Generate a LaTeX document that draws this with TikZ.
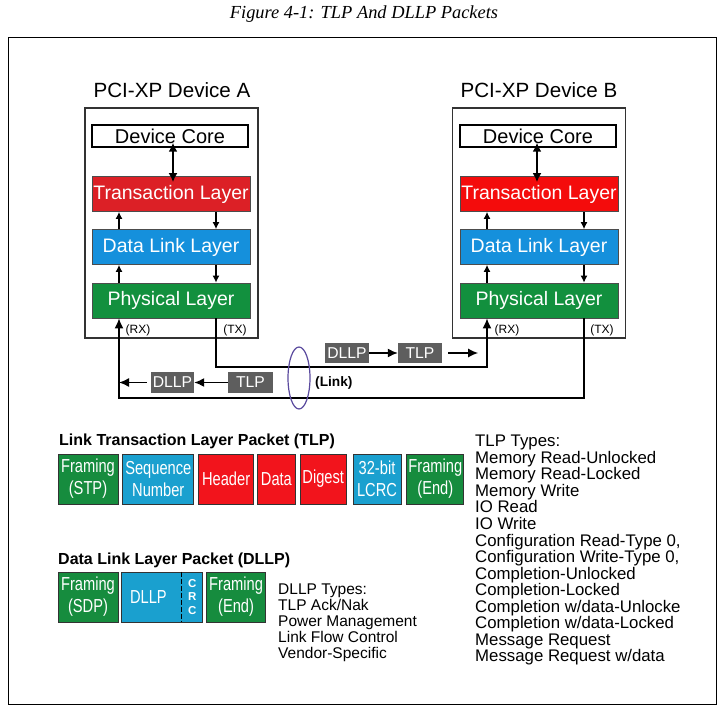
\documentclass[tikz,border=0pt]{standalone}
\usepackage{fontspec}
\setmainfont{Liberation Sans}
\newfontfamily\narrowfont[FakeStretch=0.78]{Liberation Sans}
\newfontfamily\capfont{Liberation Serif}
\usetikzlibrary{positioning,arrows.meta,shapes.geometric}
\definecolor{redA}{HTML}{DC2026}
\definecolor{redB}{HTML}{F40C0C}
\definecolor{linkblue}{HTML}{1590DC}
\definecolor{phygreen}{HTML}{12903E}
\definecolor{pktgreen}{HTML}{168C3E}
\definecolor{pktblue}{HTML}{1AA0CF}
\definecolor{pktred}{HTML}{F2141C}
\definecolor{tagdark}{HTML}{5E5E5E}
\definecolor{ringblue}{HTML}{5A4A9E}
\tikzset{devbox/.style={draw=black!80, line width=1.3pt, minimum width=173pt, minimum height=230pt},
  titletext/.style={font=\fontsize{20.6}{23}\selectfont},
  corebox/.style={draw=black, line width=1.4pt, fill=white, inner sep=0pt, minimum width=156pt, minimum height=22pt, font=\fontsize{20}{22}\selectfont},
  layerbox/.style={draw=black!70, line width=0.7pt, inner sep=0pt, minimum width=158pt, minimum height=35pt, text=white, font=\fontsize{19.5}{22}\selectfont},
  portlabel/.style={inner sep=0pt, font=\fontsize{12}{13}\selectfont},
  tagbox/.style={fill=tagdark, text=white, inner sep=0pt, minimum height=20pt, font=\fontsize{15.7}{17}\selectfont},
  ring/.style={ellipse, draw=ringblue, line width=1.2pt, minimum width=22pt, minimum height=62pt},
  fieldbox/.style={draw=black!80, line width=0.8pt, inner sep=0pt, minimum height=50pt, text=white, align=center, font=\narrowfont\fontsize{18.8}{22}\selectfont},
  pkttitle/.style={inner sep=0pt, font=\bfseries\fontsize{16}{18}\selectfont},
  listtext/.style={inner sep=0pt, align=left},
  arr/.style={-{Latex[length=10pt,width=9pt]}, line width=1.5pt},
  smallarr/.style={-{Latex[length=7pt,width=7pt]}, line width=1.3pt},
  corearr/.style={{Latex[length=9pt,width=9pt]}-{Latex[length=9pt,width=9pt]}, line width=1.9pt, shorten <=-5pt, shorten >=-6pt}}

\begin{document}
\begin{tikzpicture}[x=1pt, y=-1pt]
\useasboundingbox (0,0) rectangle (728,714);
\node[font=\capfont\itshape\fontsize{18.4}{20}\selectfont] (caption) at (364,14) {Figure 4-1: TLP And DLLP Packets};
\draw[line width=1pt] (8,38) rectangle (716,704);

% device A
\node[devbox] (devA) at (171.5,223) {};
\node[titletext] (titleA) at (172,90) {PCI-XP Device A};
\node[corebox] (coreA) at (170,136) {Device Core};
\node[layerbox, fill=redA] (tlA) at (171,194) {Transaction Layer};
\node[layerbox, fill=linkblue] (dllA) at (171,247) {Data Link Layer};
\node[layerbox, fill=phygreen] (phyA) at (171,300.5) {Physical Layer};
\node[portlabel] (rxlA) at (138,330) {(RX)};
\node[portlabel] (txlA) at (235,330) {(TX)};

% device B
\node[devbox] (devB) at (539,223) {};
\node[titletext] (titleB) at (539,90) {PCI-XP Device B};
\node[corebox] (coreB) at (538,136) {Device Core};
\node[layerbox, fill=redB] (tlB) at (539,194) {Transaction Layer};
\node[layerbox, fill=linkblue] (dllB) at (539,247) {Data Link Layer};
\node[layerbox, fill=phygreen] (phyB) at (539,300.5) {Physical Layer};
\node[portlabel] (rxlB) at (507,330) {(RX)};
\node[portlabel] (txlB) at (602,330) {(TX)};

% link corners
\coordinate (rxA) at (119,398);
\coordinate (txA) at (216,367);
\coordinate (rxB) at (487,367);
\coordinate (txB) at (584,398);

\draw[corearr] ([xshift=3pt]coreA.south) -- ([xshift=2pt]tlA.north);
\draw[smallarr] (dllA.north -| rxA) -- (tlA.south -| rxA);
\draw[smallarr] (tlA.south -| txA) -- (dllA.north -| txA);
\draw[smallarr] (phyA.north -| rxA) -- (dllA.south -| rxA);
\draw[smallarr] (dllA.south -| txA) -- (phyA.north -| txA);

\draw[corearr] ([xshift=-1pt]coreB.south) -- ([xshift=-2pt]tlB.north);
\draw[smallarr] (dllB.north -| rxB) -- (tlB.south -| rxB);
\draw[smallarr] (tlB.south -| txB) -- (dllB.north -| txB);
\draw[smallarr] (phyB.north -| rxB) -- (dllB.south -| rxB);
\draw[smallarr] (dllB.south -| txB) -- (phyB.north -| txB);

% the link
\draw[arr] (phyA.south -| txA) -- (txA) -- (rxB) -- (phyB.south -| rxB);
\draw[arr] (phyB.south -| txB) -- (txB) -- (rxA) -- (phyA.south -| rxA);

\node[tagbox, minimum width=44pt] (dllpUp) at (347,353) {DLLP};
\node[tagbox, minimum width=44pt] (tlpUp) at (420,353) {TLP};
\draw[arr] (dllpUp) -- (tlpUp);
\draw[arr] ([xshift=6pt]tlpUp.east) -- ++(30,0);

\node[tagbox, minimum width=43pt, minimum height=21pt] (dllpLo) at (172.5,382.5) {DLLP};
\node[tagbox, minimum width=45pt, minimum height=21pt] (tlpLo) at (250.5,382.5) {TLP};
\draw[arr] (tlpLo) -- (dllpLo);
\draw[arr] ([xshift=-4pt]dllpLo.west) -- (dllpLo.west -| rxA);

\node[ring] (ring) at (299,378) {};
\node[anchor=west, inner sep=0pt, font=\bfseries\fontsize{13.7}{15}\selectfont] (linkTxt) at (315,383) {(Link)};

% TLP layout
\node[pkttitle, anchor=west] (tlpTitle) at (59,441) {Link Transaction Layer Packet (TLP)};
\node[fieldbox, fill=pktgreen, minimum width=60pt] (stp) at (88,479) {Framing\\(STP)};
\node[fieldbox, fill=pktblue, minimum width=71pt, right=4pt of stp] (seq) {Sequence\\Number};
\node[fieldbox, fill=pktred, minimum width=55pt, right=4pt of seq] (hdr) {Header};
\node[fieldbox, fill=pktred, minimum width=38pt, right=3pt of hdr] (data) {Data};
\node[fieldbox, fill=pktred, minimum width=46pt, right=4pt of data] (dig) {Digest};
\node[fieldbox, fill=pktblue, minimum width=48pt, right=6pt of dig] (lcrc) {32-bit\\LCRC};
\node[fieldbox, fill=pktgreen, minimum width=57pt, right=5pt of lcrc] (tlpEnd) {Framing\\(End)};

% DLLP layout
\node[pkttitle, anchor=west] (dllpTitle) at (58,560) {Data Link Layer Packet (DLLP)};
\node[fieldbox, fill=pktgreen, minimum width=60pt] (sdp) at (88,597) {Framing\\(SDP)};
\node[fieldbox, fill=pktblue, minimum width=81pt, right=3pt of sdp] (dllpF) {};
\node[fieldbox, draw=none, minimum height=0pt] (dllpTxt) at ([xshift=27pt]dllpF.west) {DLLP};
\node[inner sep=0pt, text=white, align=center, font=\bfseries\fontsize{11.5}{13.5}\selectfont] (crc) at ([xshift=-11pt]dllpF.east) {C\\R\\C};
\draw[line width=1pt, dash pattern=on 5pt off 2pt] ([xshift=-22pt]dllpF.north east) -- ([xshift=-22pt]dllpF.south east);
\node[fieldbox, fill=pktgreen, minimum width=59pt, right=3pt of dllpF] (dllpEnd) {Framing\\(End)};

\node[listtext, anchor=north west, font=\fontsize{15.5}{16}\selectfont] (dllpTypes) at (278,584) {DLLP Types:\\TLP Ack/Nak\\Power Management\\Link Flow Control\\Vendor-Specific};
\node[listtext, anchor=north west, font=\fontsize{16.8}{16.55}\selectfont] (tlpTypes) at (475,435) {TLP Types:\\Memory Read-Unlocked\\Memory Read-Locked\\Memory Write\\IO Read\\IO Write\\Configuration Read-Type 0,\\Configuration Write-Type 0,\\Completion-Unlocked\\Completion-Locked\\Completion w/data-Unlocke\\Completion w/data-Locked\\Message Request\\Message Request w/data};
\end{tikzpicture}
\end{document}
